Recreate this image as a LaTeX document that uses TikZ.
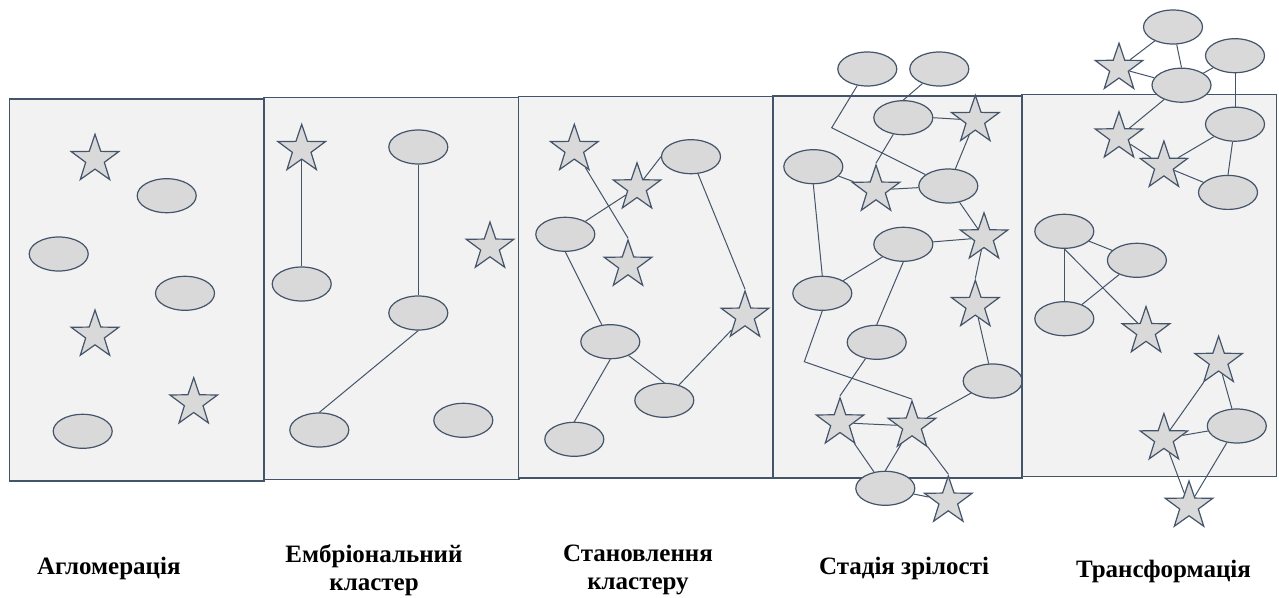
\documentclass[tikz,border=0pt]{standalone}
\usepackage{fontspec}
\setmainfont{Liberation Serif}
\usetikzlibrary{shapes.geometric}
\definecolor{edge}{HTML}{44546A}
\definecolor{panelfill}{HTML}{F2F2F2}
\definecolor{shapefill}{HTML}{D9D9D9}
\tikzset{
  panel/.style={draw=edge, fill=panelfill, line width=1.2pt},
  blob/.style={ellipse, draw=edge, fill=shapefill, line width=1.2pt,
    minimum width=59pt, minimum height=34pt, inner sep=0pt},
  starnode/.style={star, star points=5, star point ratio=2.55, draw=edge,
    fill=shapefill, line width=1.2pt, minimum size=50pt, inner sep=0pt},
  link/.style={draw=edge, line width=1pt},
  stagelabel/.style={font=\bfseries\fontsize{25}{28.7}\selectfont, align=center,
    inner sep=0pt, anchor=base}
}
\begin{document}
\begin{tikzpicture}[x=1pt, y=-1pt]
\useasboundingbox (0,0) rectangle (1279,597);

% ---------- panel 1: agglomeration ----------
\draw[panel] (9.5,99) rectangle (264,481);
\node[starnode] (a1) at (95,159.3) {};
\node[blob] (ae1) at (166.7,195.7) {};
\node[blob] (ae2) at (58.7,254) {};
\node[blob] (ae3) at (185,293.3) {};
\node[starnode] (a2) at (95,335) {};
\node[starnode] (a3) at (193.7,402.7) {};
\node[blob] (ae4) at (82.7,431.3) {};

% ---------- panel 2: embryonic cluster ----------
\draw[panel] (264,97.5) rectangle (519,479.5);
\node[starnode] (b1) at (301.7,149.3) {};
\node[blob] (be1) at (418.3,147) {};
\node[starnode] (b2) at (490,247) {};
\node[blob] (be2) at (301.7,284) {};
\node[blob] (be3) at (418.3,313) {};
\node[blob] (be4) at (319.3,430) {};
\node[blob] (be5) at (463.3,420.3) {};
\draw[link] (b1) -- (be2.north);
\draw[link] (be1.south) -- (be3.north);
\draw[link] (be3.south) -- (be4.north);

% ---------- panel 3: cluster formation ----------
\draw[panel] (518.5,96.5) rectangle (773,478);
\node[starnode] (c1) at (574.3,149.3) {};
\node[blob] (ce1) at (691,156.7) {};
\node[starnode] (c2) at (637,187.7) {};
\node[blob] (ce2) at (565.3,234.3) {};
\node[starnode] (c3) at (628,265) {};
\node[starnode] (c4) at (745,316) {};
\node[blob] (ce3) at (610.3,341.7) {};
\node[blob] (ce4) at (664.3,400.3) {};
\node[blob] (ce5) at (574.3,439.3) {};
\draw[link] (c1) -- (c3.north);
\draw[link] (ce2) -- (c2);
\draw[link] (c2) -- (ce1.west);
\draw[link] (ce1) -- (c4.north);
\draw[link] (ce2.south) -- (ce3);
\draw[link] (ce3) -- (ce4.north);
\draw[link] (ce3.south) -- (ce5.north);
\draw[link] (ce4) -- (c4);

% ---------- panel 4: maturity ----------
\draw[panel] (773,96) rectangle (1022,478);
\node[blob] (da) at (867.3,69) {};
\node[blob] (db) at (939.3,69) {};
\node[blob] (dc) at (903.3,117.7) {};
\node[starnode] (d1) at (975.3,120.3) {};
\node[blob] (dd) at (813.3,166.7) {};
\node[starnode] (d2) at (876,190) {};
\node[blob] (de) at (948.3,186) {};
\node[starnode] (d3) at (984,237.7) {};
\node[blob] (df) at (903.3,244.3) {};
\node[blob] (dg) at (822.3,293.3) {};
\node[starnode] (d4) at (975.3,305.3) {};
\node[blob] (dh) at (876.7,342.3) {};
\node[blob] (di) at (992.7,381) {};
\node[starnode] (d5) at (840,422.7) {};
\node[starnode] (d6) at (912,426) {};
\node[blob] (dj) at (885.3,488.3) {};
\node[starnode] (d7) at (948.3,501) {};
\coordinate (k1) at (831.7,127.7);
\coordinate (k2) at (804.3,361.7);
\draw[link] (da) -- (k1) -- (de);
\draw[link] (db) -- (dc.north);
\draw[link] (dc.east) -- (d1);
\draw[link] (dc) -- (d2.north);
\draw[link] (dd) -- (d2);
\draw[link] (d2) -- (de);
\draw[link] (de) -- (d1);
\draw[link] (de) -- (d3);
\draw[link] (dd.south) -- (dg.north);
\draw[link] (dg) -- (df);
\draw[link] (df) -- (d3);
\draw[link] (d3) -- (d4.north);
\draw[link] (df.south) -- (dh.north);
\draw[link] (d4) -- (di);
\draw[link] (dg.south) -- (k2) -- (d6.north);
\draw[link] (dh) -- (d5.north);
\draw[link] (d5) -- (d6);
\draw[link] (d6) -- (di);
\draw[link] (d5) -- (dj);
\draw[link] (d6) -- (dj.north);
\draw[link] (d6) -- (d7.north);
\draw[link] (dj) -- (d7);

% ---------- panel 5: transformation ----------
\draw[panel] (1022,94.5) rectangle (1276.7,476.7);
\node[blob] (ea) at (1173,27) {};
\node[blob] (eb) at (1235,55.7) {};
\node[starnode] (u1) at (1119,68.2) {};
\node[blob] (ec) at (1181.5,85.2) {};
\node[blob] (ed) at (1235,124.2) {};
\node[starnode] (u2) at (1119,136.7) {};
\node[starnode] (u3) at (1163.9,166.1) {};
\node[blob] (ee) at (1228,192.4) {};
\node[blob] (ef) at (1064.3,231.3) {};
\node[blob] (eg) at (1136.9,260.3) {};
\node[blob] (eh) at (1064.3,318.7) {};
\node[starnode] (u4) at (1146,331.5) {};
\node[starnode] (u5) at (1218.6,361.2) {};
\node[blob] (ei) at (1236.8,426) {};
\node[starnode] (u6) at (1163.9,438.6) {};
\node[starnode] (u7) at (1189,506) {};
\draw[link] (u1) -- (ea);
\draw[link] (u1) -- (ec);
\draw[link] (ea) -- (ec.north);
\draw[link] (ec) -- (eb);
\draw[link] (eb.south) -- (ed.north);
\draw[link] (ec) -- (u2);
\draw[link] (u2) -- (u3);
\draw[link] (u3) -- (ed);
\draw[link] (ed) -- (ee.north);
\draw[link] (u3) -- (ee);
\draw[link] (ef) -- (eg);
\draw[link] (ef.south) -- (eh.north);
\draw[link] (ef.south) -- (u4);
\draw[link] (eg) -- (eh);
\draw[link] (u6) -- (u5);
\draw[link] (u5) -- (ei);
\draw[link] (u6) -- (ei);
\draw[link] (u6) -- (u7);
\draw[link] (ei) -- (u7);

% ---------- stage captions (base = baseline of the last line) ----------
\node[stagelabel] (l1) at (108.8,574.3) {Агломерація};
\node[stagelabel] (l2) at (374,590.7) {Ембріональний\\кластер};
\node[stagelabel] (l3) at (638,589.7) {Становлення\\кластеру};
\node[stagelabel] (l4) at (904,574.3) {Стадія зрілості};
\node[stagelabel] (l5) at (1163.5,577) {Трансформація};
\end{tikzpicture}
\end{document}
